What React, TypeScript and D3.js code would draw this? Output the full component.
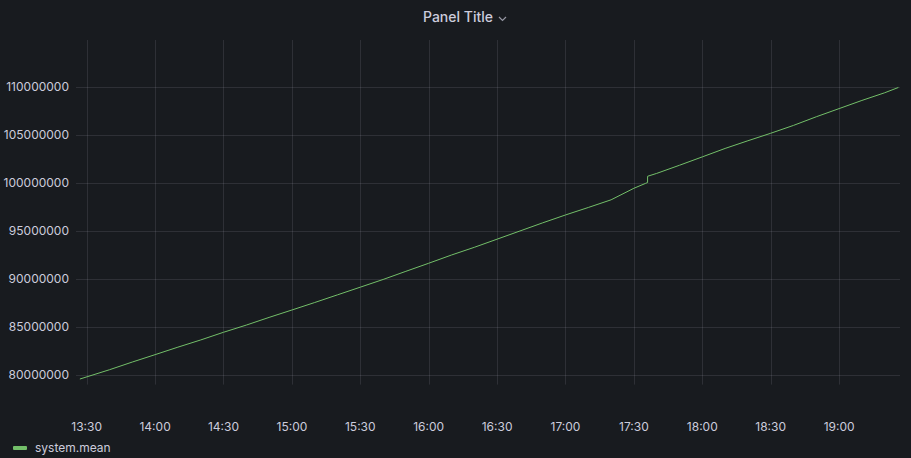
import React from 'react';
import * as d3 from 'd3';

// system.mean samples (value in millions)
const times = [
  '13:27', '13:40', '13:50', '14:00', '14:10', '14:20', '14:30', '14:40', '14:50',
  '15:00', '15:10', '15:20', '15:30', '15:40', '15:50', '16:00', '16:10', '16:20',
  '16:30', '16:40', '16:50', '17:00', '17:10', '17:20', '17:30', '17:35', '17:36',
  '17:36', '17:40', '17:50', '18:00', '18:10', '18:20', '18:30', '18:40', '18:50',
  '19:00', '19:10', '19:20', '19:26',
];
const values = [
  79.58, 80.55, 81.35, 82.12, 82.9, 83.65, 84.45, 85.2, 86.0,
  86.77, 87.55, 88.35, 89.15, 89.95, 90.8, 91.64, 92.5, 93.3,
  94.15, 95.0, 95.85, 96.67, 97.45, 98.25, 99.45, 99.95, 100.05,
  100.7, 101.0, 101.85, 102.72, 103.6, 104.4, 105.18, 106.0, 106.9,
  107.75, 108.6, 109.4, 109.95,
];
const yTicks = [80, 85, 90, 95, 100, 105, 110];
const xTicks = ['13:30', '14:00', '14:30', '15:00', '15:30', '16:00', '16:30', '17:00', '17:30', '18:00', '18:30', '19:00'];
const seriesName = 'system.mean';
const title = 'Panel Title';

const W = 911;
const H = 458;
const font = 'Inter, "Noto Sans", sans-serif';
const textColor = '#ccccdc';
const gridColor = 'rgba(204,204,220,0.12)';
const lineColor = '#73bf69';

const parse = d3.timeParse('%H:%M');

export default function App() {
  const plot = { left: 76, right: 900, top: 40, bottom: 384.6 };

  // 13:30 sits at ~86.7px, 30 minutes ~68.4px
  const t0 = parse('13:30')!.getTime();
  const pxPerMs = 68.4 / (30 * 60000);
  const x = d3.scaleTime()
    .domain([new Date(t0 - (86.7 - plot.left) / pxPerMs), new Date(t0 + (plot.right - 86.7) / pxPerMs)])
    .range([plot.left, plot.right]);

  const y = d3.scaleLinear().domain([79, 115]).range([plot.bottom, 39]);

  const data = times.map((t, i) => ({ t: parse(t)!, v: values[i] }));
  const line = d3.line<{ t: Date; v: number }>().x((d) => x(d.t)).y((d) => y(d.v));

  return (
    <svg width={W} height={H} style={{ position: 'absolute', left: 0, top: 0, background: '#181b1f' }}>
      <rect x={0} y={0} width={W} height={H} fill="#181b1f" />
      {/* title */}
      <text x={458} y={22} textAnchor="middle" fill={textColor} fontFamily={font} fontSize={14} fontWeight={500}>
        {title}
      </text>
      <path d="M499,17 l3.5,3.5 l3.5,-3.5" fill="none" stroke={textColor} strokeOpacity={0.7} strokeWidth={1.2} />

      {/* grid */}
      {yTicks.map((v) => (
        <line key={'gy' + v} x1={plot.left} x2={plot.right} y1={Math.round(y(v)) + 0.5} y2={Math.round(y(v)) + 0.5} stroke={gridColor} />
      ))}
      {xTicks.map((t) => {
        const px = Math.round(x(parse(t)!)) + 0.5;
        return <line key={'gx' + t} x1={px} x2={px} y1={plot.top} y2={plot.bottom} stroke={gridColor} />;
      })}

      {/* y labels */}
      {yTicks.map((v) => (
        <text key={'ly' + v} x={69} y={y(v) + 4} textAnchor="end" fill={textColor} fontFamily={font} fontSize={12}>
          {String(v * 1000000)}
        </text>
      ))}
      {/* x labels */}
      {xTicks.map((t) => (
        <text key={'lx' + t} x={x(parse(t)!)} y={431} textAnchor="middle" fill={textColor} fontFamily={font} fontSize={12}>
          {d3.timeFormat('%H:%M')(parse(t)!)}
        </text>
      ))}

      <path d={line(data)!} fill="none" stroke={lineColor} strokeWidth={1} />

      {/* legend */}
      <rect x={13} y={446} width={14} height={4} rx={1} fill={lineColor} />
      <text x={35} y={452} fill={textColor} fontFamily={font} fontSize={12}>
        {seriesName}
      </text>
    </svg>
  );
}
